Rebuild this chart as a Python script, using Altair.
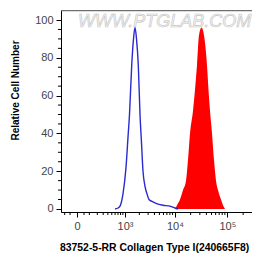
import altair as alt
import pandas as pd

# Blue (control) histogram outline: fluorescence value, relative cell number
blue_x = [598, 701, 778, 906, 1053, 1162, 1250, 1391, 1516, 1628, 1748, 1903,
          2060, 2210, 2369, 2598, 2848, 3122, 3578, 4290, 5874, 8029, 10025, 11453]
blue_y = [0, 0.5, 1.5, 8, 22, 38, 50, 76, 90, 96, 90, 76,
          50, 35, 20, 12, 8, 5, 4, 3, 2, 1.5, 0.5, 0]

# Red (antibody) filled histogram
red_x = [10025, 10955, 12509, 14280, 16310, 17810, 19446, 22190, 24234, 26460,
         28896, 32242, 35980, 41048, 43848, 46830, 51128, 55804, 60928, 66514,
         75838, 82796, 90370]
red_y = [0, 2, 5, 10, 15, 26, 40, 52, 63, 76, 92, 96, 92, 76, 63, 52, 40, 26,
         15, 10, 5, 2, 0]

x_major = [0, 1000, 10000, 100000]
x_minor = [-100, -50, 50, 100, 200, 300, 400, 500, 600, 700, 800, 900,
           2000, 3000, 4000, 5000, 6000, 7000, 8000, 9000,
           20000, 30000, 40000, 50000, 60000, 70000, 80000, 90000,
           200000]
y_major = [0, 20, 40, 60, 80, 100]
y_minor = [5, 10, 15, 25, 30, 35, 45, 50, 55, 65, 70, 75, 85, 90, 95]
frame_top = [105.3]
frame_top2 = [104.7]

x_title = "83752-5-RR Collagen Type I(240665F8)"
y_title = "Relative Cell Number"
watermark = "WWW.PTGLAB.COM"

FONT = "Liberation Sans"
W, H = 191, 202

xscale = alt.Scale(type="symlog", constant=140, domain=[-142, 294700], nice=False, zero=False)
yscale = alt.Scale(domain=[-1.6, 105.3], nice=False, zero=False)

xaxis = alt.Axis(values=x_major, tickSize=5, tickColor="black", domainColor="black",
                 labelExpr="datum.value == 0 ? '0' : datum.value == 1000 ? '10³' : datum.value == 10000 ? '10⁴' : '10⁵'",
                 labelFont=FONT, labelFontSize=11, labelColor="#444", labelPadding=3,
                 grid=False, title=None)
yaxis = alt.Axis(values=y_major, tickSize=5, tickColor="black", domainColor="black",
                 labelFont=FONT, labelFontSize=11, labelColor="#444", labelPadding=3,
                 grid=False, title=y_title, titleFont=FONT, titleFontSize=10,
                 titleFontWeight="bold", titleColor="black", titleX=-46, titleY=80,
                 titleAngle=270, titleAlign="center", titleBaseline="middle")

red_df = pd.DataFrame({"x": red_x, "y": red_y})
blue_df = pd.DataFrame({"x": blue_x, "y": blue_y})

red = alt.Chart(red_df).mark_area(color="#ff0000", interpolate="monotone").encode(
    x=alt.X("x:Q", scale=xscale, axis=xaxis),
    y=alt.Y("y:Q", scale=yscale, axis=yaxis),
)
blue = alt.Chart(blue_df).mark_line(color="#2a2ad0", strokeWidth=1.4, interpolate="monotone").encode(
    x=alt.X("x:Q", scale=xscale),
    y=alt.Y("y:Q", scale=yscale),
)
top = alt.Chart(pd.DataFrame({"y": frame_top, "y2": frame_top2})).mark_rect(
    color="#707070", opacity=1
).encode(
    y=alt.Y("y:Q", scale=yscale), y2="y2:Q", x=alt.value(0), x2=alt.value(W)
)
xminor = alt.Chart(pd.DataFrame({"x": x_minor})).mark_rule(color="black", strokeWidth=1).encode(
    x=alt.X("x:Q", scale=xscale), y=alt.value(H), y2=alt.value(H + 3)
)
yminor = alt.Chart(pd.DataFrame({"y": y_minor})).mark_rule(color="black", strokeWidth=1).encode(
    y=alt.Y("y:Q", scale=yscale), x=alt.value(-3), x2=alt.value(0)
)
wm = alt.Chart(pd.DataFrame({"t": [watermark]})).mark_text(
    font=FONT, fontSize=18, fontStyle="italic", fill="#f6f6f6", stroke="#c4c4c4",
    strokeWidth=0.6, align="left", baseline="middle"
).encode(x=alt.value(17), y=alt.value(12), text="t:N")
xt = alt.Chart(pd.DataFrame({"t": [x_title]})).mark_text(
    font=FONT, fontSize=10.4, fontWeight="bold", color="black", align="left",
    baseline="middle"
).encode(x=alt.value(-1), y=alt.value(H + 36), text="t:N")

chart = alt.layer(red, wm, blue, xminor, yminor, xt, top).properties(
    width=W, height=H,
    autosize=alt.AutoSizeParams(type="none"),
    padding={"left": 53, "top": 2, "right": 0, "bottom": 42},
).configure_view(stroke=None).configure(background="white")

chart.save("out.html", embed_options={"renderer": "svg", "actions": False})
